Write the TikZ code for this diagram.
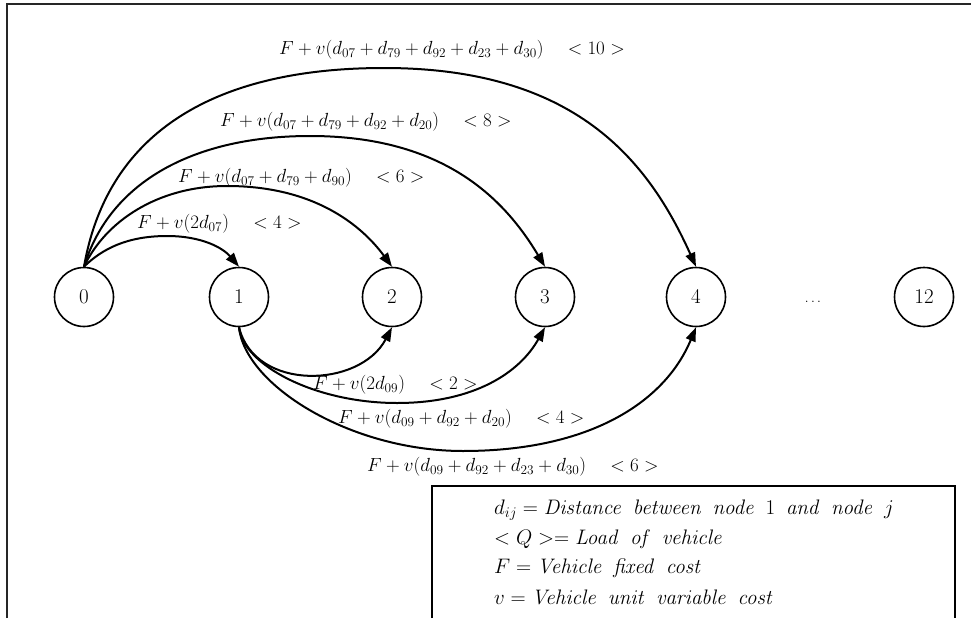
\RequirePackage{fix-cm}
\documentclass[tikz,border=0pt]{standalone}
\usetikzlibrary{arrows.meta}
\newcommand{\ws}{\hspace{0.5em}}
\begin{document}
\begin{tikzpicture}[x=1pt,y=-1pt,
  nd/.style={draw, circle, line width=1.6pt, minimum size=59pt, inner sep=0pt, font=\fontsize{21}{25}\selectfont},
  arcc/.style={line width=2pt, -{Triangle[length=14pt,width=10pt]}},
  lbl/.style={anchor=west, inner sep=0pt, font=\fontsize{19}{23}\selectfont},
  leg/.style={anchor=west, inner sep=0pt, font=\fontsize{21}{25}\selectfont},
  frame/.style={line width=2.6pt, draw=black!85},
  ]
\useasboundingbox (0,0) rectangle (971,618);
% outer frame (open at right and bottom)
\draw[frame] (7,618) -- (7,4) -- (971,4);
% nodes
\node[nd] (n0) at (84,297) {$0$};
\node[nd] (n1) at (239,297) {$1$};
\node[nd] (n2) at (392,297) {$2$};
\node[nd] (n3) at (545,297) {$3$};
\node[nd] (n4) at (696,297) {$4$};
\node[inner sep=0pt, font=\fontsize{14}{16}\selectfont] (dots) at (813,302) {$\ldots$};
\node[nd] (n12) at (924,297) {$12$};
% turning points of the arcs
\coordinate (p1) at (167,236);
\coordinate (p2) at (227,186);
\coordinate (p3) at (310,136);
\coordinate (p4) at (384,68);
\coordinate (q3) at (397,403);
\coordinate (q4) at (463,451);
% upper arcs
\draw[arcc] (n0.north) .. controls (102,249) and (127,236) .. (p1)
  .. controls (202,236) and (223,248) .. (n1.north);
\draw[arcc] (n0.north) .. controls (105,222) and (157,186) .. (p2)
  .. controls (315,186) and (362,226) .. (n2.north);
\draw[arcc] (n0.north) .. controls (110,181) and (195,136) .. (p3)
  .. controls (445,136) and (505,200) .. (n3.north);
\draw[arcc] (n0.north) .. controls (108,129) and (219,68) .. (p4)
  .. controls (575,68) and (648,160) .. (n4.north);
% lower arcs
\draw[arcc] (n1.south) .. controls (255,392) and (360,388) .. (n2.south);
\draw[arcc] (n1.south) .. controls (243,365) and (315,403) .. (q3)
  .. controls (475,403) and (520,372) .. (n3.south);
\draw[arcc] (n1.south) .. controls (245,385) and (350,451) .. (q4)
  .. controls (590,451) and (665,402) .. (n4.south);
% upper labels
\node[lbl] (l10) at (279,50) {$F+v(d_{07}+d_{79}+d_{92}+d_{23}+d_{30})\quad <10>$};
\node[lbl] (l8) at (220,122) {$F+v(d_{07}+d_{79}+d_{92}+d_{20})\quad <8>$};
\node[lbl] (l6) at (178,178) {$F+v(d_{07}+d_{79}+d_{90})\quad <6>$};
\node[lbl] (l4) at (137,224) {$F+v(2d_{07})\quad <4>$};
% lower labels
\node[lbl] (m2) at (313,385) {$F+v(2d_{09})\quad <2>$};
\node[lbl] (m4) at (338,419) {$F+v(d_{09}+d_{92}+d_{20})\quad <4>$};
\node[lbl] (m6) at (367,467) {$F+v(d_{09}+d_{92}+d_{23}+d_{30})\quad <6>$};
% legend box (open at bottom)
\draw[line width=1.8pt] (432,618) -- (432,486) -- (955,486) -- (955,618);
\node[leg] (g1) at (494,510) {$d_{ij}=\mathit{Distance}\ws\mathit{between}\ws\mathit{node}\ws 1\ws\mathit{and}\ws\mathit{node}\ws j$};
\node[leg] (g2) at (494,539) {$<Q>=\mathit{Load}\ws\mathit{of}\ws\mathit{vehicle}$};
\node[leg] (g3) at (494,568) {$F=\mathit{Vehicle}\ws\mathit{fixed}\ws\mathit{cost}$};
\node[leg] (g4) at (494,597) {$v=\mathit{Vehicle}\ws\mathit{unit}\ws\mathit{variable}\ws\mathit{cost}$};
\end{tikzpicture}
\end{document}
